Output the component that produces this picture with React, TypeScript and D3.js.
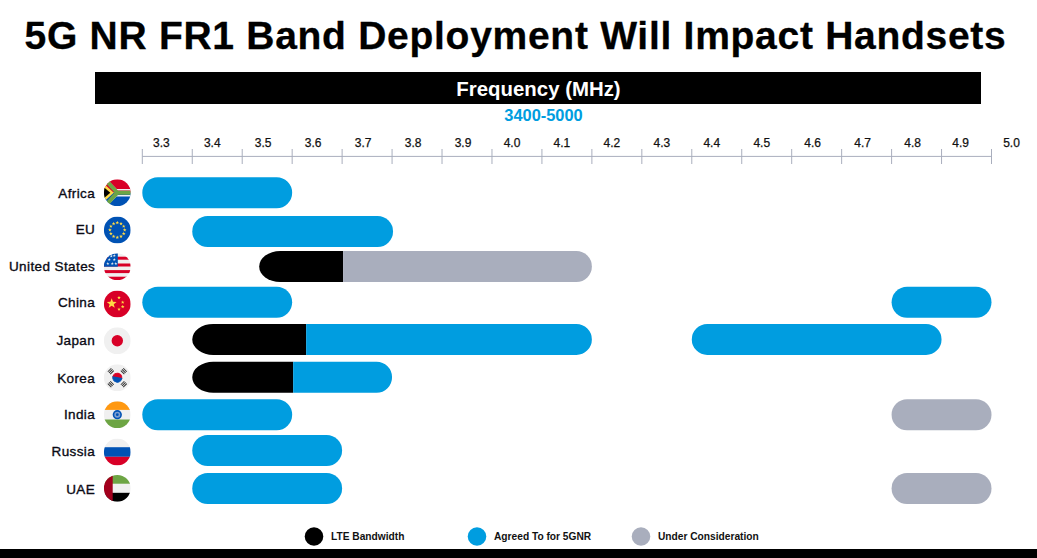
import React from "react";
import * as d3 from "d3";

const ticks = [3.3,3.4,3.5,3.6,3.7,3.8,3.9,4.0,4.1,4.2,4.3,4.4,4.5,4.6,4.7,4.8,4.9,5.0];
const tickLabelShift = [19,20,21,21,21,21,21,20,20,20,20,20,20,21,21,21,19,20];
const countries = ["Africa","EU","United States","China","Japan","Korea","India","Russia","UAE"];
const rowCentres = [192.8,231.5,266.5,302.2,339.4,377.2,414.7,450.5,488.5];
const flagCentres = [192.7,230,266.7,304,340.7,377.7,414.7,452,488.3];
const labelBaselines = [198,234,271,307,345,382.7,418.7,456,494];
type Seg = [number, number, "lte" | "agreed" | "under"];
const africa: Seg[] = [[3.3,3.6,"agreed"]];
const eu: Seg[] = [[3.4,3.802,"agreed"]];
const us: Seg[] = [[3.534,3.702,"lte"],[3.702,4.2,"under"]];
const china: Seg[] = [[3.3,3.6,"agreed"],[4.8,5.0,"agreed"]];
const japan: Seg[] = [[3.4,3.628,"lte"],[3.628,4.2,"agreed"],[4.4,4.9,"agreed"]];
const korea: Seg[] = [[3.4,3.602,"lte"],[3.602,3.8,"agreed"]];
const india: Seg[] = [[3.3,3.6,"agreed"],[4.8,5.0,"under"]];
const russia: Seg[] = [[3.4,3.7,"agreed"]];
const uae: Seg[] = [[3.4,3.7,"agreed"],[4.8,5.0,"under"]];
const rows = [africa,eu,us,china,japan,korea,india,russia,uae];
const colours: Record<string,string> = { lte:"#000000", agreed:"#009de0", under:"#a9aebd" };
const legend = [
  {key:"lte",label:"LTE Bandwidth",cx:314,tx:331},
  {key:"agreed",label:"Agreed To for 5GNR",cx:477,tx:494},
  {key:"under",label:"Under Consideration",cx:641,tx:658},
];
const FF = "'Liberation Sans', Arial, sans-serif";

function roundedPath(x0:number,x1:number,y:number,h:number,rl:boolean,rr:boolean,rx:number){
  const r=h/2, t=y-r, b=y+r;
  let d = `M${rl?x0+rx:x0},${t} `;
  if(rr){ d+=`L${x1-rx},${t} A${rx},${r} 0 0 1 ${x1-rx},${b} `; } else { d+=`L${x1},${t} L${x1},${b} `; }
  if(rl){ d+=`L${x0+rx},${b} A${rx},${r} 0 0 1 ${x0+rx},${t} `; } else { d+=`L${x0},${b} `; }
  return d+"Z";
}

function Flag({i,cy}:{i:number;cy:number}){
  const cx=117.3, r=13.4, id=`f${i}`;
  const R=(y:number,h:number,c:string,x=-r,w=2*r)=><rect x={cx+x} y={cy+y} width={w} height={h} fill={c}/>;
  const star=(x:number,y:number,s:number,c:string,k:number)=>{
    const pts=d3.range(10).map(n=>{const a=-Math.PI/2+n*Math.PI/5;const q=n%2?s*0.42:s;return `${cx+x+q*Math.cos(a)},${cy+y+q*Math.sin(a)}`;}).join(" ");
    return <polygon key={k} points={pts} fill={c}/>;
  };
  let c:React.ReactNode=null;
  if(i===0) c=<>
    {R(-r,r,"#d80027")}{R(0,r,"#0052b4")}
    <path d={`M${cx-r+3},${cy-r+1} L${cx-1},${cy-3} L${cx+r},${cy-3} M${cx-r+3},${cy+r-1} L${cx-1},${cy+3} L${cx+r},${cy+3}`} fill="none" stroke="#f0f0f0" strokeWidth={1.6}/>
    <path d={`M${cx-r+2},${cy-r+1} L${cx},${cy} L${cx-r+2},${cy+r-1} M${cx},${cy} L${cx+r},${cy}`} fill="none" stroke="#6da544" strokeWidth={4}/>
    <polygon points={`${cx-r},${cy-9} ${cx-3.5},${cy} ${cx-r},${cy+9}`} fill="#ffda44"/>
    <polygon points={`${cx-r},${cy-5.5} ${cx-7},${cy} ${cx-r},${cy+5.5}`} fill="#000"/>
  </>;
  if(i===1) c=<>{R(-r,2*r,"#0052b4")}{d3.range(12).map(n=>{const a=n*Math.PI/6;return star(7.4*Math.sin(a),-7.4*Math.cos(a),1.9,"#ffda44",n);})}</>;
  if(i===2) c=<>
    {R(-r,2*r,"#f0f0f0")}
    {R(-10,3,"#d80027")}{R(-3.2,3,"#d80027")}{R(3.4,3,"#d80027")}{R(10,3.5,"#d80027")}
    {R(-r,r,"#0052b4",-r,r+0.5)}
    {[[-9.5,-3],[-5,-3],[-1.5,-3],[-8,-7],[-3,-7],[-3,-11],[-6,-10.5]].map(([x,y],k)=>star(x,y,1.6,"#f0f0f0",k))}
  </>;
  if(i===3) c=<>
    {R(-r,2*r,"#d80027")}
    {star(-5.6,-0.5,5.2,"#ffda44",0)}
    {star(1.7,-6.3,1.9,"#ffda44",1)}{star(5.4,-1.7,1.9,"#ffda44",2)}{star(5.4,2.7,1.9,"#ffda44",3)}{star(1.7,5.3,1.9,"#ffda44",4)}
  </>;
  if(i===4) c=<>{R(-r,2*r,"#f0f0f0")}<circle cx={cx} cy={cy} r={5.7} fill="#d80027"/></>;
  if(i===5) c=<>
    {R(-r,2*r,"#f0f0f0")}
    <path d={`M${cx-4.5},${cy} A4.5,4.5 0 0 1 ${cx+4.5},${cy} Z`} transform={`rotate(10 ${cx} ${cy})`} fill="#d80027" stroke="#d80027" strokeWidth={1}/>
    <path d={`M${cx-4.5},${cy} A4.5,4.5 0 0 0 ${cx+4.5},${cy} Z`} transform={`rotate(10 ${cx} ${cy})`} fill="#0052b4" stroke="#0052b4" strokeWidth={1}/>
    {[[-6.5,-6.5,-45],[6.5,-6.5,45],[-6.5,6.5,45],[6.5,6.5,-45]].map(([x,y,a],k)=>
      <g key={k} transform={`rotate(${a} ${cx+x} ${cy+y})`} stroke="#333" strokeWidth={1}>
        {[-1.7,0,1.7].map(d=><line key={d} x1={cx+x-2.5} x2={cx+x+2.5} y1={cy+y+d} y2={cy+y+d}/>)}
      </g>)}
  </>;
  if(i===6) c=<>
    {R(-r,2*r,"#f0f0f0")}{R(-r,8.6,"#ff9811")}{R(4.8,8.6,"#6da544")}
    <circle cx={cx} cy={cy} r={4.6} fill="#0052b4"/><circle cx={cx} cy={cy} r={3} fill="#7f9fd0"/><circle cx={cx} cy={cy} r={1.4} fill="#0052b4"/>
  </>;
  if(i===7) c=<>{R(-r,8.6,"#f0f0f0")}{R(-4.8,9.6,"#0052b4")}{R(4.8,8.6,"#d80027")}</>;
  if(i===8) c=<>
    {R(-r,9,"#6da544")}{R(-4.5,9,"#f0f0f0")}{R(4.5,9,"#000")}{R(-r,2*r,"#a2001d",-r,8.8)}
  </>;
  return <g><clipPath id={id}><circle cx={cx} cy={cy} r={r}/></clipPath><g clipPath={`url(#${id})`}>{c}</g></g>;
}

export default function App(){
  const x=d3.scaleLinear().domain([3.3,5.0]).range([142.3,991.5]);
  const axisY=156.4;
  return (
    <svg width={1037} height={558} style={{position:"absolute",left:0,top:0,background:"#fff"}} fontFamily={FF}>
      <text x={515.5} y={49} textAnchor="middle" fontSize={39} fontWeight={700} letterSpacing={0.72} fill="#000" stroke="#000" strokeWidth={0.3}>5G NR FR1 Band Deployment Will Impact Handsets</text>
      <rect x={95} y={72} width={886} height={32} fill="#000"/>
      <text x={538.5} y={96} textAnchor="middle" fontSize={20.4} fontWeight={700} fill="#fff">Frequency (MHz)</text>
      <text x={543.5} y={121} textAnchor="middle" fontSize={16.4} fontWeight={700} fill="#009de0">3400-5000</text>
      <line x1={x(3.3)} x2={x(5.0)} y1={axisY} y2={axisY} stroke="#a9aebd" strokeWidth={1}/>
      {ticks.map((t,i)=><g key={t}>
        <line x1={x(t)} x2={x(t)} y1={149} y2={164} stroke="#a9aebd" strokeWidth={1}/>
        <text x={x(t)+tickLabelShift[i]} y={147} textAnchor="middle" fontSize={12} fontWeight={400} fill="#111" stroke="#111" strokeWidth={0.25}>{t.toFixed(1)}</text>
      </g>)}
      {countries.map((c,i)=><g key={c}>
        <text x={95.2} y={labelBaselines[i]} textAnchor="end" fontSize={13.5} letterSpacing={0.4} fill="#0a0a14" stroke="#0a0a14" strokeWidth={0.35}>{c}</text>
        <Flag i={i} cy={flagCentres[i]}/>
        {rows[i].map((s,k)=>{
          const prev=rows[i][k-1], next=rows[i][k+1];
          const rl=!(prev&&prev[1]===s[0]), rr=!(next&&next[0]===s[1]);
          const rx=s[2]==="lte"?21:15.5;
          return <path key={k} d={roundedPath(x(s[0]),x(s[1]),rowCentres[i],31,rl,rr,rx)} fill={colours[s[2]]}/>;
        })}
      </g>)}
      {legend.map(l=><g key={l.key}>
        <circle cx={l.cx} cy={536.5} r={9.3} fill={colours[l.key]}/>
        <text x={l.tx} y={540} fontSize={10.2} fontWeight={700} fill="#111">{l.label}</text>
      </g>)}
      <rect x={0} y={549} width={1037} height={9} fill="#000"/>
    </svg>
  );
}
